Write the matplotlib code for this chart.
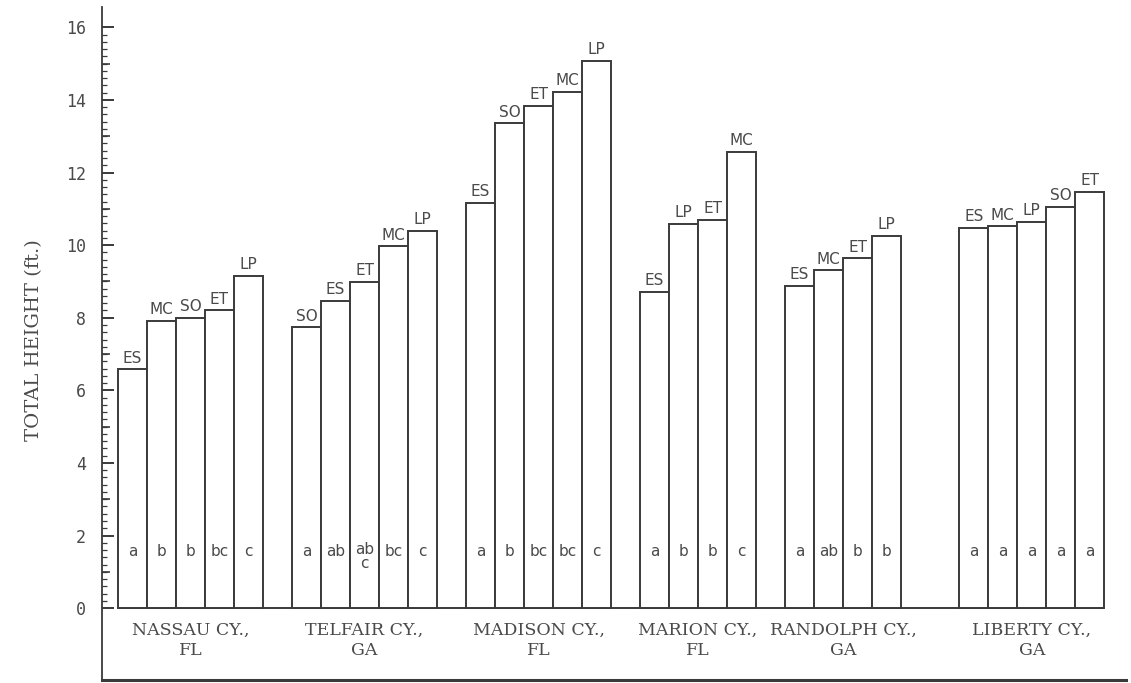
import matplotlib
matplotlib.use("Agg")
import matplotlib.pyplot as plt
import numpy as np

# ---------------- data ----------------
counties = ["NASSAU CY.,\nFL", "TELFAIR CY.,\nGA", "MADISON CY.,\nFL",
            "MARION CY.,\nFL", "RANDOLPH CY.,\nGA", "LIBERTY CY.,\nGA"]

nassau_species = ["ES", "MC", "SO", "ET", "LP"]
nassau_height = [6.58, 7.92, 7.99, 8.20, 9.15]
nassau_letters = ["a", "b", "b", "bc", "c"]

telfair_species = ["SO", "ES", "ET", "MC", "LP"]
telfair_height = [7.74, 8.47, 8.99, 9.97, 10.39]
telfair_letters = ["a", "ab", "ab\nc", "bc", "c"]

madison_species = ["ES", "SO", "ET", "MC", "LP"]
madison_height = [11.16, 13.36, 13.83, 14.22, 15.08]
madison_letters = ["a", "b", "bc", "bc", "c"]

marion_species = ["ES", "LP", "ET", "MC"]
marion_height = [8.71, 10.58, 10.69, 12.57]
marion_letters = ["a", "b", "b", "c"]

randolph_species = ["ES", "MC", "ET", "LP"]
randolph_height = [8.88, 9.31, 9.64, 10.25]
randolph_letters = ["a", "ab", "b", "b"]

liberty_species = ["ES", "MC", "LP", "SO", "ET"]
liberty_height = [10.47, 10.52, 10.64, 11.06, 11.47]
liberty_letters = ["a", "a", "a", "a", "a"]

y_ticks = [0, 2, 4, 6, 8, 10, 12, 14, 16]
y_odd_ticks = [1, 3, 5, 7, 9, 11, 13, 15]

groups = [
    (nassau_species, nassau_height, nassau_letters),
    (telfair_species, telfair_height, telfair_letters),
    (madison_species, madison_height, madison_letters),
    (marion_species, marion_height, marion_letters),
    (randolph_species, randolph_height, randolph_letters),
    (liberty_species, liberty_height, liberty_letters),
]
# empty slots after each group (layout)
gaps_after = [1, 1, 1, 1, 2, 0]

# ---------------- figure ----------------
ink = "#3a3a3a"
txt = "#4a4a4a"
fig = plt.figure(figsize=(11.31, 6.83), dpi=100)
ax = fig.add_axes([102 / 1131, 3 / 683, 1 - 102 / 1131 - 5 / 1131, 673 / 683])

letter_font = dict(fontsize=11, color=txt, family="DejaVu Sans",
                   ha="center", va="center")

pos = 0
all_left = []
for gi, (sp, h, let) in enumerate(groups):
    xs = np.arange(pos, pos + len(h))
    ax.bar(xs, h, width=1.0, align="edge", facecolor="white",
           edgecolor=ink, linewidth=1.4, zorder=2)
    for x, val, s, l in zip(xs, h, sp, let):
        ax.text(x + 0.5, val + 0.1, s, ha="center", va="bottom",
                fontsize=11, color=txt, family="DejaVu Sans")
        if "\n" in l:
            top, bot = l.split("\n")
            ax.text(x + 0.5, 1.62, top, **letter_font)
            ax.text(x + 0.5, 1.22, bot, **letter_font)
        else:
            ax.text(x + 0.5, 1.57, l, **letter_font)
    center = pos + len(h) / 2.0
    ax.text(center, -0.38, counties[gi], ha="center", va="top",
            fontsize=12.5, color=txt, family="DejaVu Serif",
            linespacing=1.25)
    all_left.extend(xs)
    pos += len(h) + gaps_after[gi]

ax.hlines(0, min(all_left), max(all_left) + 1, color=ink, linewidth=1.4,
          zorder=1)

ax.set_xlim(-0.55, 34.75)
ax.set_ylim(-1.98, 16.56)

for s in ["top", "right"]:
    ax.spines[s].set_visible(False)
ax.spines["left"].set_color(ink)
ax.spines["bottom"].set_color(ink)
ax.spines["left"].set_linewidth(1.3)
ax.spines["bottom"].set_linewidth(2.2)

ax.set_xticks([])
ax.set_yticks(y_ticks)
ax.set_yticklabels([str(t) for t in y_ticks], family="DejaVu Sans Mono",
                   fontsize=12, color=txt)
ax.set_yticks(np.arange(0, 16.01, 0.2), minor=True)
ax.tick_params(axis="y", which="major", direction="in", length=8.5,
               width=1.4, color=ink, pad=11.5)
ax.tick_params(axis="y", which="minor", direction="in", length=3.5,
               width=0.9, color=ink)

sec = ax.secondary_yaxis("left")
sec.set_yticks(y_odd_ticks)
sec.set_yticklabels([])
sec.set_yticks([], minor=True)
sec.tick_params(axis="y", which="major", direction="in", length=5.5,
                width=1.2, color=ink)
sec.spines["left"].set_visible(False)

ax.set_ylabel("TOTAL HEIGHT (ft.)", family="DejaVu Serif", fontsize=14,
              color=txt)
ax.yaxis.set_label_coords(-0.058, 0.505)

fig.savefig("out.png", dpi=100, facecolor="white")
